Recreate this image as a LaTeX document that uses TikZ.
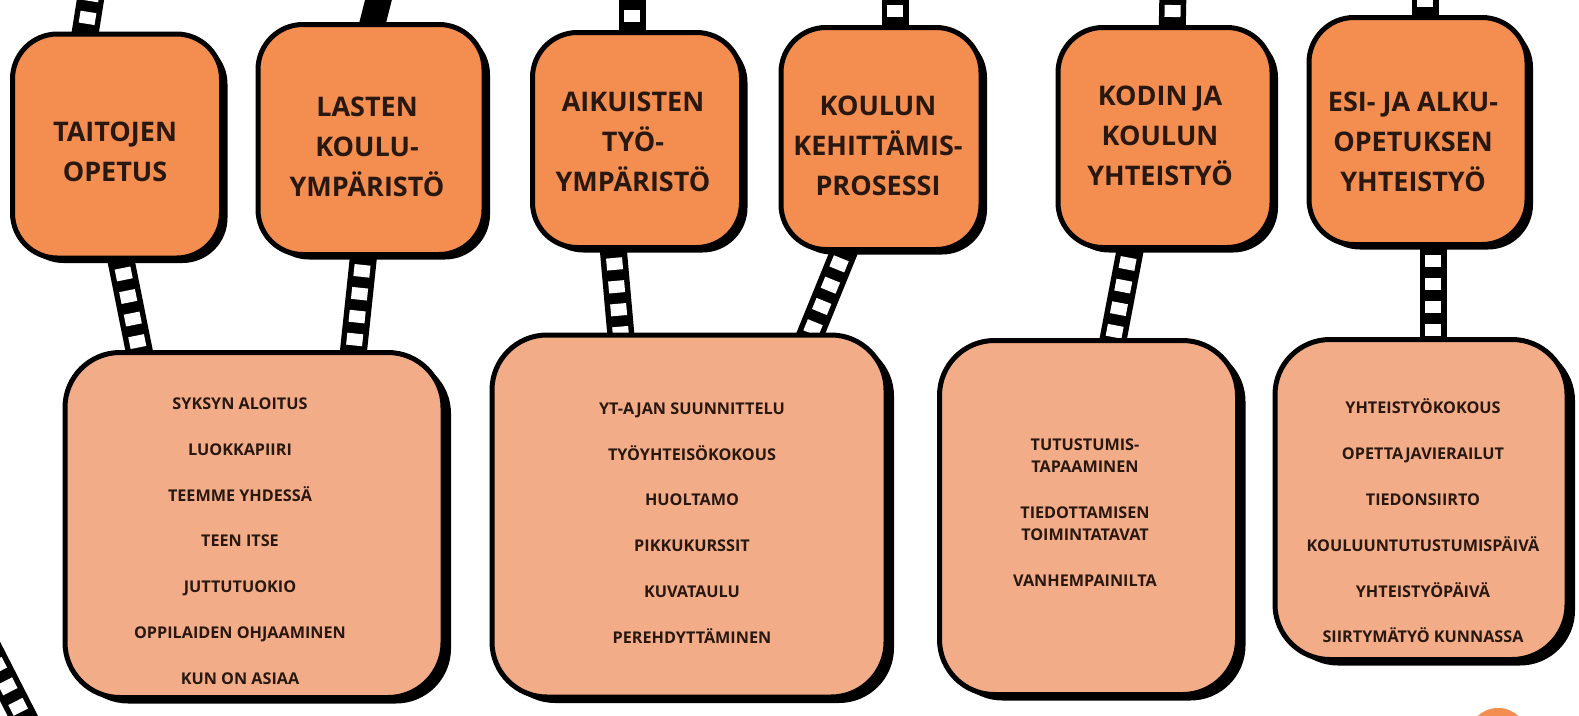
\documentclass[tikz,border=0pt]{standalone}
\usepackage{fontspec}
\setmainfont{Open Sans}
\usetikzlibrary{shadows,calc}
\pgfdeclarelayer{bg}
\pgfsetlayers{bg,main}
\definecolor{toporange}{RGB}{243,141,80}
\definecolor{peach}{RGB}{243,172,136}
\definecolor{ink}{RGB}{40,24,16}
\newcommand\filmstrip[2]{%
  \draw[stripblk] #1 -- #2;
  \draw[stripwht] #1 -- #2;}
\begin{document}
\begin{tikzpicture}[x=1pt,y=-1pt,
  stripblk/.style={line width=27pt, draw=black},
  stripwht/.style={line width=16pt, draw=white, dash pattern=on 12pt off 11pt},
  solidstrip/.style={line width=26pt, draw=black},
  topbox/.style={draw=black, line width=5pt, fill=toporange, rounded corners=45pt,
    inner sep=0pt, drop shadow={shadow xshift=6pt, shadow yshift=-5pt, fill=black, opacity=1}},
  lowbox/.style={draw=black, line width=5pt, fill=peach, rounded corners=55pt,
    inner sep=0pt, drop shadow={shadow xshift=8pt, shadow yshift=-6pt, fill=black, opacity=1}},
  toptext/.style={align=center, text=ink, font=\bfseries\fontsize{27}{40}\selectfont, inner sep=0pt},
  lowtext/.style={align=center, text=ink, font=\bfseries\fontsize{16.2}{45.8}\selectfont, inner sep=0pt},
  dot/.style={circle, fill=toporange, minimum size=60pt, inner sep=0pt}]
\useasboundingbox (0,0) rectangle (1579,715);

% top boxes
\node[topbox, minimum width=209pt, minimum height=224pt] (t1) at (117,146) {};
\node[topbox, minimum width=226pt, minimum height=230pt] (t2) at (371,139.5) {};
\node[topbox, minimum width=209pt, minimum height=215pt] (t3) at (637,140) {};
\node[topbox, minimum width=200pt, minimum height=222pt] (t4) at (881,138.5) {};
\node[topbox, minimum width=214pt, minimum height=220pt] (t5) at (1165,137.5) {};
\node[topbox, minimum width=218pt, minimum height=227pt] (t6) at (1418,131) {};

\node[toptext] (tt1) at (115,152) {TAITOJEN\\OPETUS};
\node[toptext] (tt2) at (367,147) {LASTEN\\KOULU-\\YMPÄRISTÖ};
\node[toptext] (tt3) at (633,142) {AIKUISTEN\\TYÖ-\\YMPÄRISTÖ};
\node[toptext] (tt4) at (878,146) {KOULUN\\KEHITTÄMIS-\\PROSESSI};
\node[toptext] (tt5) at (1160,136) {KODIN JA\\KOULUN\\YHTEISTYÖ};
\node[toptext] (tt6) at (1413,142) {ESI- JA ALKU-\\OPETUKSEN\\YHTEISTYÖ};

% bottom boxes
\node[lowbox, minimum width=378pt, minimum height=345pt] (bA) at (254,525) {};
\node[lowbox, minimum width=394pt, minimum height=362pt] (bB) at (689,516) {};
\node[lowbox, minimum width=298pt, minimum height=354pt] (bC) at (1088.5,517.5) {};
\node[lowbox, minimum width=292pt, minimum height=320pt] (bD) at (1421,499.5) {};

\node[lowtext] (ta) at (240,541) {SYKSYN ALOITUS\\LUOKKAPIIRI\\TEEMME YHDESSÄ\\TEEN ITSE\\JUTTUTUOKIO\\OPPILAIDEN OHJAAMINEN\\KUN ON ASIAA};
\node[lowtext] (tb) at (692,523) {YT-AJAN SUUNNITTELU\\TYÖYHTEISÖKOKOUS\\HUOLTAMO\\PIKKUKURSSIT\\KUVATAULU\\PEREHDYTTÄMINEN};
\node[lowtext, font=\bfseries\fontsize{16.2}{22}\selectfont] (tc) at (1085,513) {TUTUSTUMIS-\\TAPAAMINEN\\[24pt]TIEDOTTAMISEN\\TOIMINTATAVAT\\[24pt]VANHEMPAINILTA};
\node[lowtext] (td) at (1423,521) {YHTEISTYÖKOKOUS\\OPETTAJAVIERAILUT\\TIEDONSIIRTO\\KOULUUNTUTUSTUMISPÄIVÄ\\YHTEISTYÖPÄIVÄ\\SIIRTYMÄTYÖ KUNNASSA};

\node[dot] (dot) at (1498,738) {};

% free ends of connectors
\coordinate (k1) at (92,-10);
\coordinate (k2) at (381,-10);
\coordinate (k3) at (632,-10);
\coordinate (k4) at (895,-10);
\coordinate (k5) at (1173,-10);
\coordinate (k6) at (1425,-10);
\coordinate (k7) at (-16,640);
\coordinate (k8) at (30,730);

\begin{pgfonlayer}{bg}
  \fill[white] (0,0) rectangle (1579,715);
  \filmstrip{($(t1.north)+(-34,15)$)}{(k1)}
  \draw[solidstrip] ($(t2.north)+(-2,15)$) -- (k2);
  \filmstrip{($(t3.north)+(-5,15)$)}{(k3)}
  \filmstrip{($(t4.north)+(14,15)$)}{(k4)}
  \filmstrip{($(t5.north)+(7,15)$)}{(k5)}
  \filmstrip{($(t6.north)+(7,15)$)}{(k6)}
  \filmstrip{($(t1.south)+(1,-15)$)}{($(bA.north)+(-112,15)$)}
  \filmstrip{($(t2.south)+(-6,-15)$)}{($(bA.north)+(98,15)$)}
  \filmstrip{($(t3.south)+(-25,-15)$)}{($(bB.north)+(-67,15)$)}
  \filmstrip{($(t4.south)+(-31,-15)$)}{($(bB.north)+(116,15)$)}
  \filmstrip{($(t5.south)+(-32,-15)$)}{($(bC.north)+(22,15)$)}
  \filmstrip{($(t6.south)+(15,-15)$)}{($(bD.north)+(12,15)$)}
  \filmstrip{(k7)}{(k8)}
\end{pgfonlayer}
\end{tikzpicture}
\end{document}
